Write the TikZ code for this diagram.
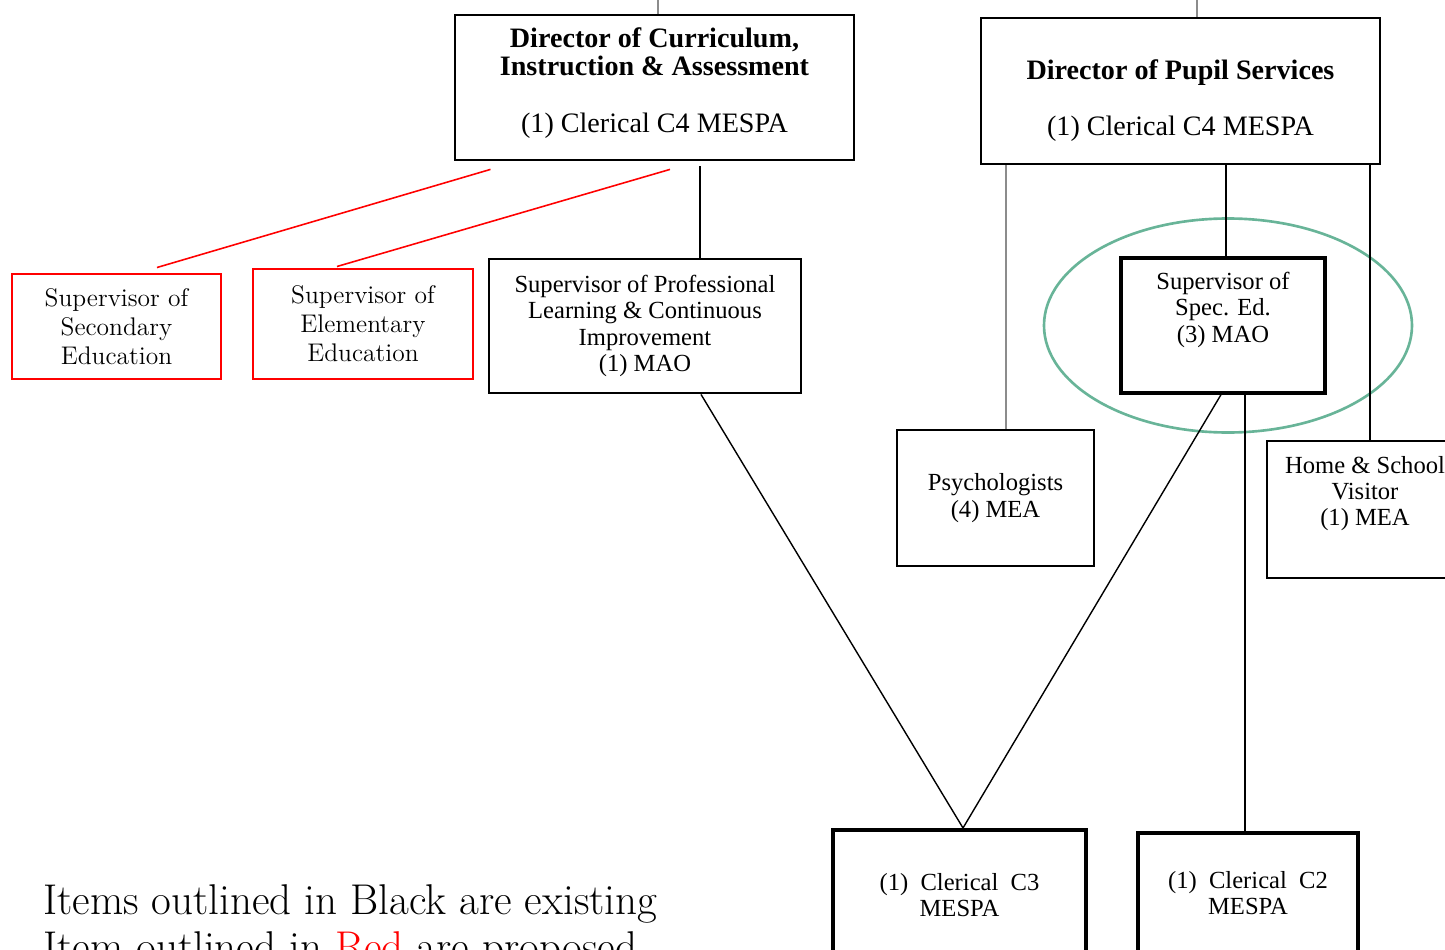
\documentclass[tikz,border=0pt]{standalone}
\usepackage{fontspec}
\usepackage{xcolor}
\usetikzlibrary{positioning,calc}
\newfontfamily\tnr{Liberation Serif}
\definecolor{MarkGreen}{RGB}{104,180,152}
\definecolor{PropRed}{RGB}{255,0,0}
\newcommand{\pu}{0.02cm}
\tikzset{
  bbox/.style={draw=black,line width=1.6pt,align=center,inner sep=2pt,
               font=\tnr\fontsize{14}{15}\selectfont},
  dbox/.style={bbox,font=\tnr\fontsize{16}{16}\selectfont},
  rbox/.style={draw=PropRed,line width=1.7pt,align=center,inner sep=2pt,
               font=\fontsize{14.5}{16.5}\selectfont},
  lnk/.style={black,line width=0.8pt},
  glnk/.style={black!45,line width=0.8pt},
  rlnk/.style={PropRed,line width=0.9pt},
}
\begin{document}
\begin{tikzpicture}[x=\pu,y=-\pu]
        \useasboundingbox (0,0) rectangle (1445,950);
        \clip (0,0) rectangle (1445,950);
        \node[dbox,minimum width=399*\pu,minimum height=145*\pu] (dca) at (654.5,87.5)
          {\textbf{Director of Curriculum,}\\\textbf{Instruction \& Assessment}\\[16pt](1) Clerical C4 MESPA\\[-7.5pt]\mbox{}};
        \node[dbox,minimum width=399*\pu,minimum height=146*\pu] (dps) at (1180.5,91)
          {\mbox{}\\[6.5pt]\textbf{Director of Pupil Services}\\[16pt](1) Clerical C4 MESPA};
        \node[rbox,minimum width=209*\pu,minimum height=105*\pu] (sec) at (116.5,326.5)
          {Supervisor of\\Secondary\\Education};
        \node[rbox,minimum width=220*\pu,minimum height=110*\pu] (elem) at (363,324)
          {Supervisor of\\Elementary\\Education};
        \node[bbox,minimum width=312*\pu,minimum height=134*\pu] (spl) at (645,326)
          {Supervisor of Professional\\Learning \& Continuous\\Improvement\\(1) MAO};
        \node[bbox,line width=1.9pt,minimum width=204*\pu,minimum height=135*\pu] (sse) at (1223,325.5)
          {Supervisor of\\Spec. Ed.\\(3) MAO\\[6pt]\mbox{}};
        \node[bbox,minimum width=197*\pu,minimum height=136*\pu] (psy) at (995.5,498)
          {Psychologists\\(4) MEA};
        \node[bbox,minimum width=196*\pu,minimum height=137*\pu] (hsv) at (1365,509.5)
          {Home \& School\\Visitor\\(1) MEA\\[6pt]\mbox{}};
        \node[bbox,line width=2.3pt,minimum width=253*\pu,minimum height=130*\pu] (cc3) at (959.5,895)
          {(1)~~Clerical~~C3\\MESPA};
        \node[bbox,line width=2pt,minimum width=220*\pu,minimum height=120*\pu] (cc2) at (1248,893)
          {(1)~~Clerical~~C2\\MESPA};
        \node[anchor=north west,inner sep=0pt,align=left,font=\fontsize{24.5}{27}\selectfont] (note) at (43,884)
          {Items outlined in Black are existing\\Item outlined in \textcolor{PropRed}{Red} are proposed};
        \draw[MarkGreen,line width=1.5pt] ($(sse)+(5,0)$) ellipse [x radius=184,y radius=107];
        \coordinate (topa) at (658,0);
        \coordinate (topb) at (1197,0);
        \draw[glnk] (topa) -- (topa |- dca.north);
        \draw[glnk] (topb) -- (topb |- dps.north);
        \draw[rlnk] ($(dca.south)+(-164,8)$) -- ($(sec.north)+(40.5,-5)$);
        \draw[rlnk] ($(dca.south)+(15.5,8)$) -- ($(elem.north)+(-26,-1)$);
        \draw[lnk] ($(dca.south)+(45.5,5)$) coordinate (ca) -- (ca |- spl.north);
        \draw[glnk] ($(dps.south)+(-174.5,0)$) coordinate (pa) -- (pa |- psy.north);
        \draw[lnk] ($(dps.south)+(45.5,0)$) coordinate (pb) -- (pb |- sse.north);
        \draw[lnk] ($(dps.south)+(189.5,0)$) coordinate (pc) -- (pc |- hsv.north);
        \draw[lnk] ($(spl.south)+(56,0)$) -- ($(cc3.north)+(3.5,0)$);
        \draw[lnk] ($(sse.south)+(-2,0)$) -- ($(cc3.north)+(3.5,0)$);
        \draw[lnk] ($(sse.south)+(22,0)$) coordinate (sa) -- (sa |- cc2.north);
      \end{tikzpicture}
\end{document}
